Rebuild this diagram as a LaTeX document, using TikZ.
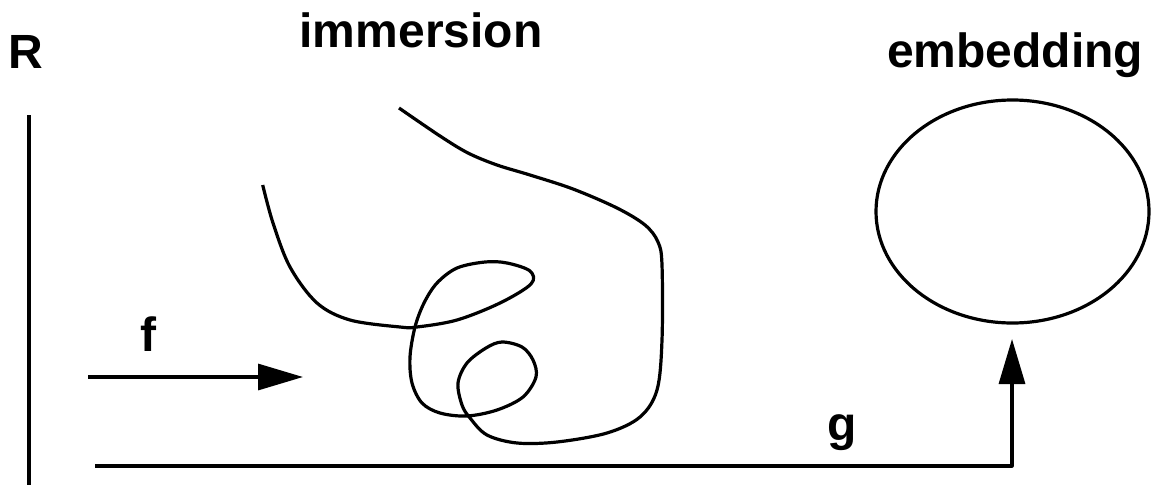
\documentclass[tikz,border=0pt]{standalone}
\usepackage{fontspec}
\setmainfont{Liberation Sans}
\usetikzlibrary{arrows.meta,shapes.geometric}
\tikzset{
  lbl/.style={inner sep=0pt, anchor=base, font=\fontsize{48}{56}\selectfont\bfseries},
  stroke/.style={line width=3.2pt, line join=round},
  arr/.style={stroke, -{Triangle[length=45pt,width=26pt]}}
}
\begin{document}
\begin{tikzpicture}[x=1pt,y=-1pt]
\useasboundingbox (0,0) rectangle (1156,485);
% labels
\node[lbl] (R) at (26,68) {R};
\node[lbl] (imm) at (421,47) {immersion};
\node[lbl] (emb) at (1015,67) {embedding};
\node[lbl] (f) at (148,351) {f};
\node[lbl] (g) at (842,440) {g};
% real line
\coordinate (rtop) at (29,115);
\coordinate (rbot) at (29,485);
\draw[stroke] (rtop) -- (rbot);
% embedding circle
\node[draw, stroke, ellipse, minimum width=273pt, minimum height=223pt, inner sep=0pt] (circ) at (1012.5,211.5) {};
% arrows
\coordinate (fstart) at (88,377);
\coordinate (fend) at (303,377);
\draw[arr] (fstart) -- (fend);
\coordinate (gstart) at (95,466);
\coordinate (gtip) at (1012,339);
\draw[arr] (gstart) -| (gtip);
% immersed curve
\draw[stroke] plot[smooth, tension=0.55] coordinates {
 (262.7,185) (273,223) (290,267) (317,303) (350,320) (400,327) (417,327)
 (457,320) (500,303) (531,284) (530,271) (507,263) (485,262) (457,268)
 (437,283) (424,303) (415,327) (410,357) (412,383) (422,403) (440,413)
 (467,416) (497,410) (523,397) (536,377) (533,360) (522,347) (502,342)
 (486,348) (467,363) (458,383) (462,405) (470,418) (487,435) (517,443)
 (557,442) (607,433) (640,417) (657,390) (662,340) (662,265) (658,242)
 (645,225) (617,208) (573,189) (530,175) (497,165) (468,153) (440,136) (399,108)};
\end{tikzpicture}
\end{document}
